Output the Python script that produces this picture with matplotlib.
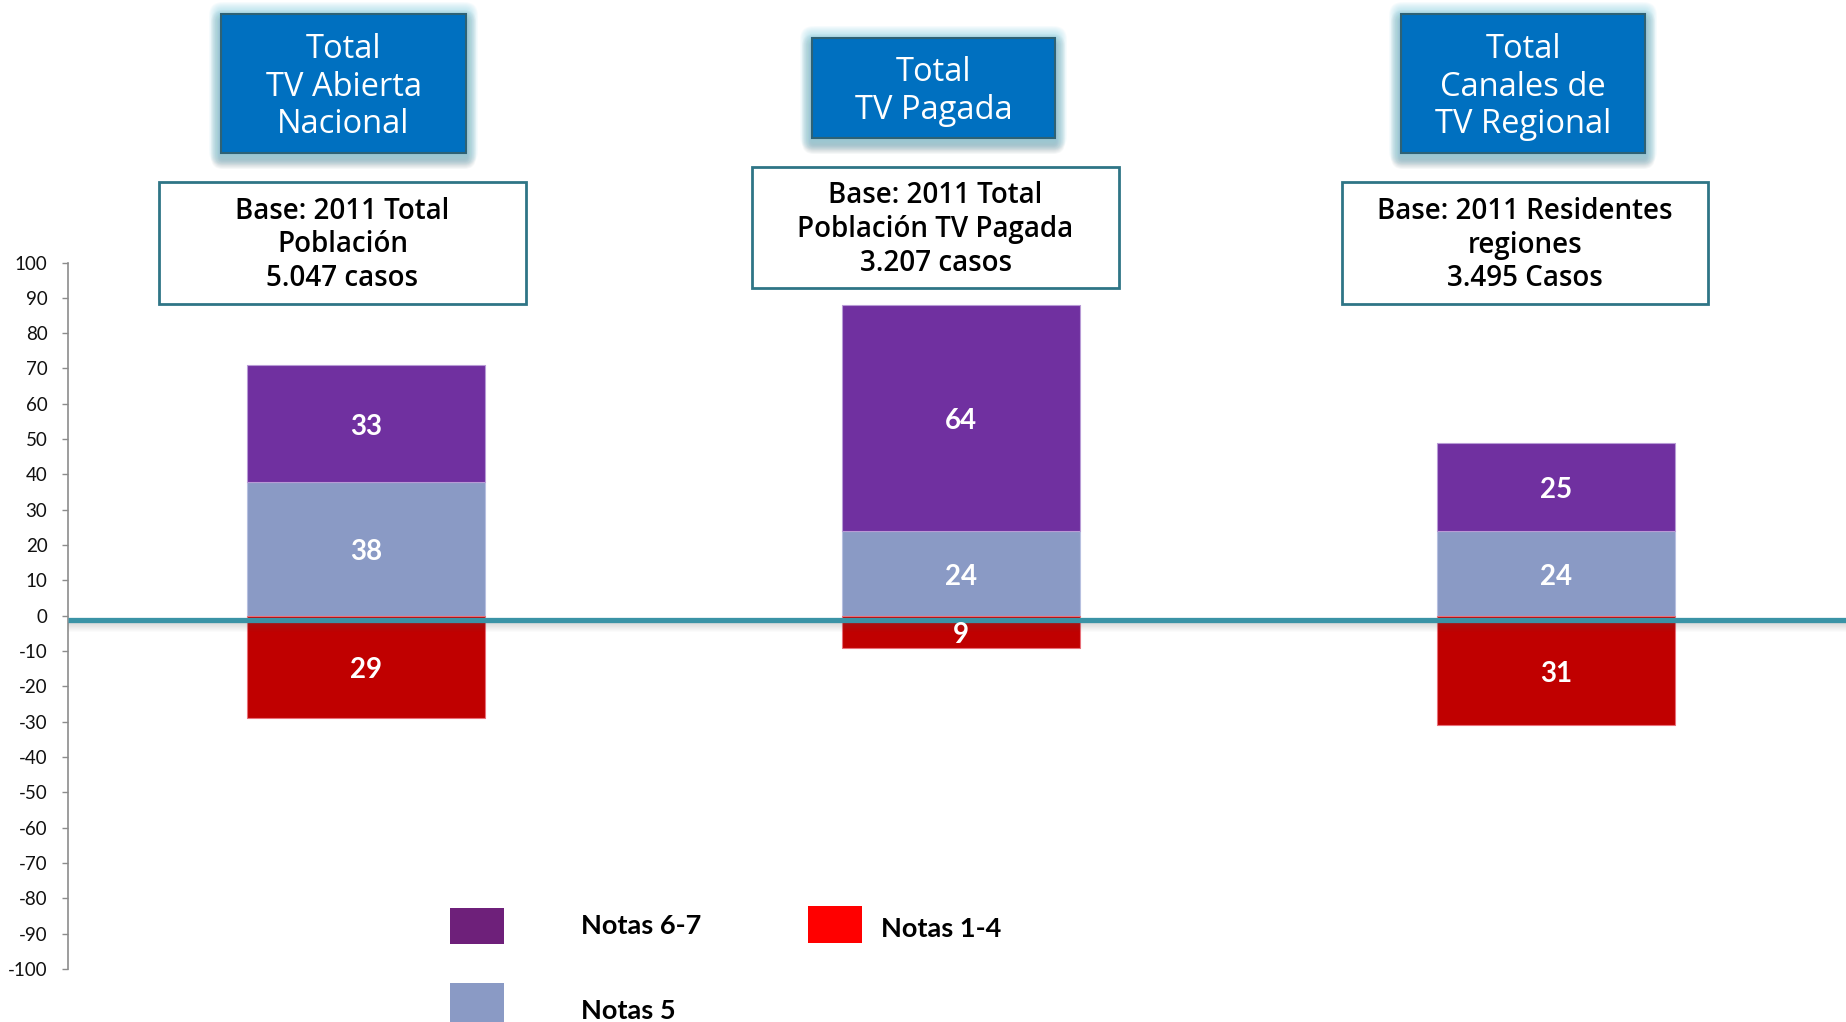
import numpy as np
import matplotlib
matplotlib.use("Agg")
import matplotlib.pyplot as plt
from matplotlib.patches import Rectangle, FancyBboxPatch
from matplotlib.transforms import offset_copy

# ---------------- data ----------------
categories = ["Total TV Abierta Nacional", "Total TV Pagada", "Total Canales de TV Regional"]
header_labels = ["Total\nTV Abierta\nNacional", "Total\nTV Pagada", "Total\nCanales de\nTV Regional"]
base_labels = ["Base: 2011 Total\nPoblación\n5.047 casos",
               "Base: 2011 Total\nPoblación TV Pagada\n3.207 casos",
               "Base: 2011 Residentes\nregiones\n3.495 Casos"]
series_names = ["Notas 6-7", "Notas 5", "Notas 1-4"]
notas_67 = [33, 64, 25]
notas_5 = [38, 24, 24]
notas_14 = [29, 9, 31]          # shown below zero
yticks = list(range(-100, 101, 10))

# ---------------- style ----------------
W, H = 1846, 1022
C67, C5, C14 = "#7030A0", "#8A9AC5", "#C00000"
LEG67, LEG5, LEG14 = "#6E207A", "#8A9AC5", "#FF0000"
fig = plt.figure(figsize=(W / 100, H / 100), dpi=100)
fig.patch.set_facecolor("white")

ax = fig.add_axes([68 / W, 1 - 969 / H, 1 - 68 / W, (969 - 262.5) / H])
x = np.arange(len(categories))
bw = 0.4
ax.bar(x, notas_5, width=bw, color=C5, edgecolor="#B7C0E0", linewidth=0.8, zorder=2)
ax.bar(x, notas_67, bottom=notas_5, width=bw, color=C67, edgecolor="#B89BD6", linewidth=0.8, zorder=2)
neg = -np.array(notas_14)
ax.bar(x, neg, width=bw, color=C14, edgecolor="#E8707A", linewidth=0.8, zorder=2)

lab_tr = offset_copy(ax.transData, fig=fig, x=0, y=-3.5, units="dots")
lab_kw = dict(ha="center", va="center", color="white", fontsize=20,
              fontfamily="Lato", fontweight="bold", zorder=6, transform=lab_tr)
for i in range(len(categories)):
    ax.text(x[i], notas_5[i] + notas_67[i] / 2, str(notas_67[i]), **lab_kw)
    ax.text(x[i], notas_5[i] / 2, str(notas_5[i]), **lab_kw)
    ax.text(x[i], neg[i] / 2, str(notas_14[i]), **lab_kw)

# zero line with soft shadow
zl = -1.2
for k in range(10):
    ax.axhline(zl - (2.0 + k) / 3.533, color="#555555", alpha=0.22 * (1 - k / 10),
               lw=0.75, zorder=4, solid_capstyle="butt")
ax.axhline(zl, color="#3A93A6", lw=3.8, zorder=5, solid_capstyle="butt")

ax.set_xlim(-0.5008, 2.487)
ax.set_ylim(-100, 100)
ax.set_yticks(yticks)
ax.set_yticklabels([str(t) for t in yticks], fontfamily="Lato", fontsize=13.5)
ax.set_xticks([])
for s in ["top", "right", "bottom"]:
    ax.spines[s].set_visible(False)
ax.spines["left"].set_color("#8C8C8C")
ax.spines["left"].set_linewidth(1.2)
ax.tick_params(axis="y", length=4.3, width=1, color="#8C8C8C", pad=10.5, labelcolor="#111111")
ax.patch.set_alpha(0)

# ---------------- header boxes ----------------
def inch(v):
    return v / 100.0

header_boxes = [(221, 14, 466, 153), (812, 38, 1055, 138), (1401, 14, 1645, 153)]
for (x0, y0, x1, y1), txt in zip(header_boxes, header_labels):
    w, h = x1 - x0, y1 - y0
    # shadow
    for p in range(10, 0, -1):
        fig.patches.append(FancyBboxPatch((inch(x0), inch(H - y1 - 6)), inch(w), inch(h),
                                          boxstyle=f"round,pad={inch(p)},rounding_size={inch(p + 2)}",
                                          transform=fig.dpi_scale_trans, facecolor="#4A6A75",
                                          edgecolor="none", alpha=0.05, zorder=1))
    # glow
    for p in range(12, 0, -1):
        fig.patches.append(FancyBboxPatch((inch(x0), inch(H - y1)), inch(w), inch(h),
                                          boxstyle=f"round,pad={inch(p)},rounding_size={inch(p + 2)}",
                                          transform=fig.dpi_scale_trans, facecolor="#8DD4E6",
                                          edgecolor="none", alpha=0.07, zorder=1))
    fig.patches.append(Rectangle((inch(x0), inch(H - y1)), inch(w), inch(h),
                                 transform=fig.dpi_scale_trans, facecolor="#0070C0",
                                 edgecolor="#2E6275", linewidth=1.5, zorder=2))
    fig.text((x0 + x1) / 2 / W, 1 - ((y0 + y1) / 2 + 3.5) / H, txt, ha="center", va="center",
             color="white", fontsize=23.5, fontfamily="Open Sans", fontweight="medium",
             linespacing=1.19, zorder=3)

# ---------------- base boxes ----------------
base_boxes = [(159, 182, 526, 304), (752, 167, 1119, 288), (1342, 182, 1708, 304)]
for (x0, y0, x1, y1), txt in zip(base_boxes, base_labels):
    w, h = x1 - x0, y1 - y0
    fig.patches.append(Rectangle((inch(x0), inch(H - y1)), inch(w), inch(h),
                                 transform=fig.dpi_scale_trans, facecolor="white",
                                 edgecolor="#2F7586", linewidth=2, zorder=2))
    fig.text((x0 + x1) / 2 / W, 1 - ((y0 + y1) / 2 + 2) / H, txt, ha="center", va="center",
             color="black", fontsize=20, fontfamily="Open Sans", fontweight="semibold",
             linespacing=1.22, zorder=3)

# ---------------- legend ----------------
leg_items = [(series_names[0], LEG67, (450, 908, 504, 944), (581, 926)),
             (series_names[2], LEG14, (808, 906, 862, 943), (881, 929)),
             (series_names[1], LEG5, (450, 983, 504, 1030), (581, 1011))]
for name, col, (x0, y0, x1, y1), (tx, ty) in leg_items:
    fig.patches.append(Rectangle((inch(x0), inch(H - y1)), inch(x1 - x0), inch(y1 - y0),
                                 transform=fig.dpi_scale_trans, facecolor=col,
                                 edgecolor="none", zorder=2))
    fig.text(tx / W, 1 - ty / H, name, ha="left", va="center", color="black",
             fontsize=19.5, fontfamily="Lato", fontweight="bold", zorder=3)

fig.savefig("out.png", dpi=100)
